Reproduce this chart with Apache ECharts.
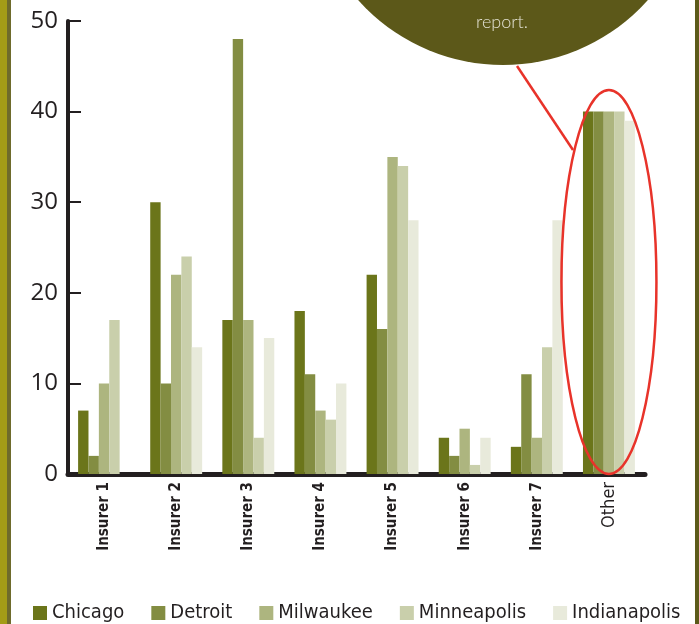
<!DOCTYPE html>
<html>
<head>
<meta charset="utf-8">
<script src="https://cdn.jsdelivr.net/npm/echarts@6/dist/echarts.min.js"></script>
<style>
html,body{margin:0;padding:0;background:#fff;}
#c{width:699px;height:624px;}
</style>
</head>
<body>
<div id="c"></div>
<script>
var categories = ['Insurer 1','Insurer 2','Insurer 3','Insurer 4','Insurer 5','Insurer 6','Insurer 7','Other'];
var chicago      = [7, 30, 17, 18, 22, 4, 3, 40];
var detroit      = [2, 10, 48, 11, 16, 2, 11, 40];
var milwaukee    = [10, 22, 17, 7, 35, 5, 4, 40];
var minneapolis  = [17, 24, 4, 6, 34, 1, 14, 40];
var indianapolis = [0, 14, 15, 10, 28, 4, 28, 39];
var yTicks = [0, 10, 20, 30, 40, 50];

var seriesNames = ['Chicago','Detroit','Milwaukee','Minneapolis','Indianapolis'];
var seriesData = [chicago, detroit, milwaukee, minneapolis, indianapolis];
var colors = ['#6b751a','#838d42','#adb57f','#c9cfab','#e8eadb'];

var condensed = '"DejaVu Sans Condensed","Roboto",sans-serif';

var catData = categories.map(function(c){
  return c === 'Other'
    ? {value:c, textStyle:{fontSize:18, fontWeight:'normal'}}
    : c;
});

var chart = echarts.init(document.getElementById('c'), null, {renderer:'canvas'});
var option = {
  animation:false,
  color: colors,
  grid:{left:68, right:54, top:21, bottom:150, containLabel:false},
  legend:{
    data: seriesNames,
    left: 28, top: 598, width: 690,
    itemWidth: 14, itemHeight: 14, itemGap: 27,
    icon: 'rect',
    textStyle:{fontSize:20, color:'#231f20', fontFamily:condensed}
  },
  xAxis:{
    type:'category',
    data: catData,
    axisLine:{lineStyle:{color:'#231f20', width:5}},
    axisTick:{show:false},
    axisLabel:{
      rotate:90, interval:0, margin:8,
      fontSize:15, fontWeight:'bold', color:'#231f20', fontFamily:condensed
    }
  },
  yAxis:{
    type:'value', min:0, max:50, interval:10,
    splitLine:{show:false},
    axisLine:{show:true, lineStyle:{color:'#231f20', width:4}},
    axisTick:{show:true, inside:true, length:13, lineStyle:{color:'#231f20', width:2}},
    axisLabel:{
      fontSize:24, color:'#231f20', margin:10, fontFamily:'"Open Sans",sans-serif',
      formatter:function(v){ return yTicks.indexOf(v) >= 0 ? String(v) : ''; }
    }
  },
  series: seriesNames.map(function(n,i){
    return {
      name:n, type:'bar', data: seriesData[i],
      barGap:'0%', barCategoryGap:'28%',
      itemStyle:{color:colors[i]}
    };
  })
};
chart.setOption(option);

// annotations
var otherBase = chart.convertToPixel({xAxisIndex:0, yAxisIndex:0}, ['Other', 0]);
var cx = otherBase[0];
var y0 = otherBase[1];
chart.setOption({
  graphic:[
    {type:'rect', shape:{x:0,y:0,width:7,height:624}, style:{fill:'#a39c17'}, z:100},
    {type:'rect', shape:{x:7,y:0,width:4,height:624}, style:{fill:'#6e6b2c'}, z:100},
    {type:'rect', shape:{x:695,y:0,width:4,height:624}, style:{fill:'#5c5a1a'}, z:100},
    {type:'circle', shape:{cx:503, cy:-129, r:194}, style:{fill:'#5c5819'}, z:100},
    {type:'text', x:502, y:22, style:{text:'report.', fill:'#e2e1d2', fontSize:18, fontFamily:'"Lato","Open Sans",sans-serif', fontWeight:300, align:'center', verticalAlign:'middle'}, z:101},
    {type:'line', shape:{x1:517, y1:66, x2:573, y2:150}, style:{stroke:'#e8332a', lineWidth:2.5}, z:100},
    {type:'ellipse', shape:{cx:cx, cy:y0-192, rx:47.5, ry:192}, style:{fill:'none', stroke:'#e8332a', lineWidth:2.5}, z:100}
  ]
});
</script>
</body>
</html>
